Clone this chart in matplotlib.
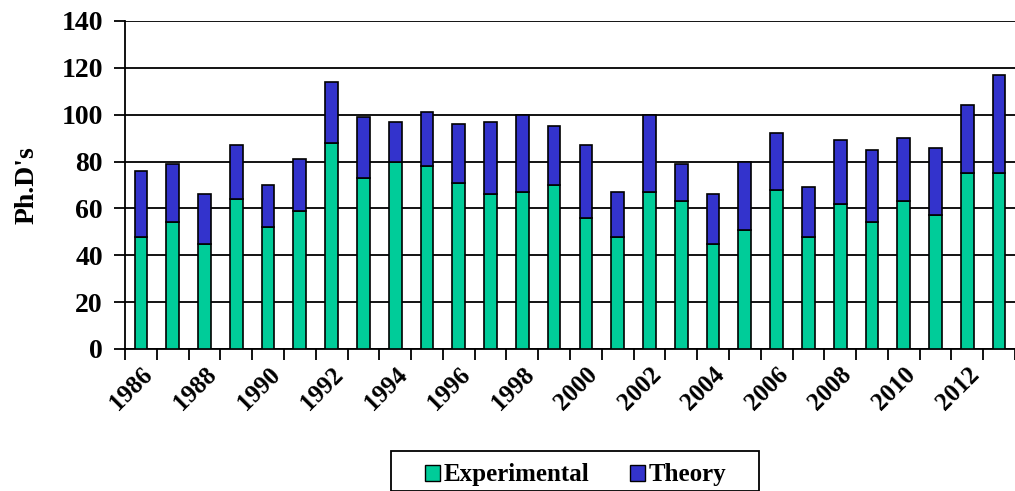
import matplotlib
matplotlib.use("Agg")
import matplotlib.pyplot as plt
import numpy as np
from matplotlib.patches import Patch, Rectangle

years = list(range(1986, 2014))
totals = [76, 79, 66, 87, 70, 81, 114, 99, 97, 101, 96, 97, 100, 95, 87, 67,
          100, 79, 66, 80, 92, 69, 89, 85, 90, 86, 104, 117]
experimental = [48, 54, 45, 64, 52, 59, 88, 73, 80, 78, 71, 66, 67, 70, 56, 48,
                67, 63, 45, 51, 68, 48, 62, 54, 63, 57, 75, 75]
theory = [t - e for t, e in zip(totals, experimental)]
yticks = [0, 20, 40, 60, 80, 100, 120, 140]

green = "#00CC99"
blue = "#3333CC"

plt.rcParams["font.family"] = ["Liberation Serif", "DejaVu Serif"]
plt.rcParams["font.weight"] = "bold"

W, H = 1015, 491
fig = plt.figure(figsize=(W/100, H/100), dpi=100)
ax = fig.add_axes([125/W, 1 - 349/H, 1 - 125/W, (349 - 21)/H])

x = np.arange(len(years))
ax.bar(x, experimental, width=0.4, color=green, edgecolor="black", linewidth=1.2, zorder=3)
ax.bar(x, theory, bottom=experimental, width=0.4, color=blue, edgecolor="black", linewidth=1.2, zorder=3)

ax.set_xlim(-0.5, len(years) - 0.5)
ax.set_ylim(0, 140)
ax.set_yticks(yticks)
ax.set_yticklabels([str(v) for v in yticks], fontsize=20, fontweight="bold")
ax.yaxis.grid(True, color="black", linewidth=1.3, zorder=0)
ax.set_axisbelow(True)
ax.tick_params(axis="y", direction="out", length=8, width=1.3, pad=8)

major = [i for i, y in enumerate(years) if y % 2 == 0]
ax.set_xticks(major)
ax.set_xticklabels([str(years[i]) for i in major], rotation=45, ha="right",
                   rotation_mode="anchor", fontsize=18, fontweight="bold")
ax.tick_params(axis="x", which="major", length=0, pad=10)
ax.set_xticks(np.arange(-0.5, len(years), 1.0), minor=True)
ax.tick_params(axis="x", which="minor", direction="out", length=8, width=1.3)

for s in ["top", "right"]:
    ax.spines[s].set_visible(False)
ax.spines["left"].set_linewidth(1.3)
ax.spines["bottom"].set_linewidth(1.3)

ax.set_ylabel("Ph.D's", fontsize=20, fontweight="bold")
ax.yaxis.set_label_coords(-(125 - 40) / 890, 0.5)

# legend frame
fig.patches.append(Rectangle((391/W, 0), (759 - 391)/W, 1 - 451/H, transform=fig.transFigure,
                             facecolor="white", edgecolor="black", linewidth=1.3, zorder=1))
handles = [Patch(facecolor=green, edgecolor="black", label="Experimental"),
           Patch(facecolor=blue, edgecolor="black", label="Theory")]
leg = fig.legend(handles=handles, loc="center left", bbox_to_anchor=(425/W, 1 - 475/H),
                 ncol=2, frameon=False, prop={"size": 18, "weight": "bold"},
                 handlelength=0.6, handleheight=0.6, handletextpad=0.15,
                 columnspacing=1.6, borderpad=0, borderaxespad=0)
leg.set_zorder(2)

fig.savefig("out.png", dpi=100)
